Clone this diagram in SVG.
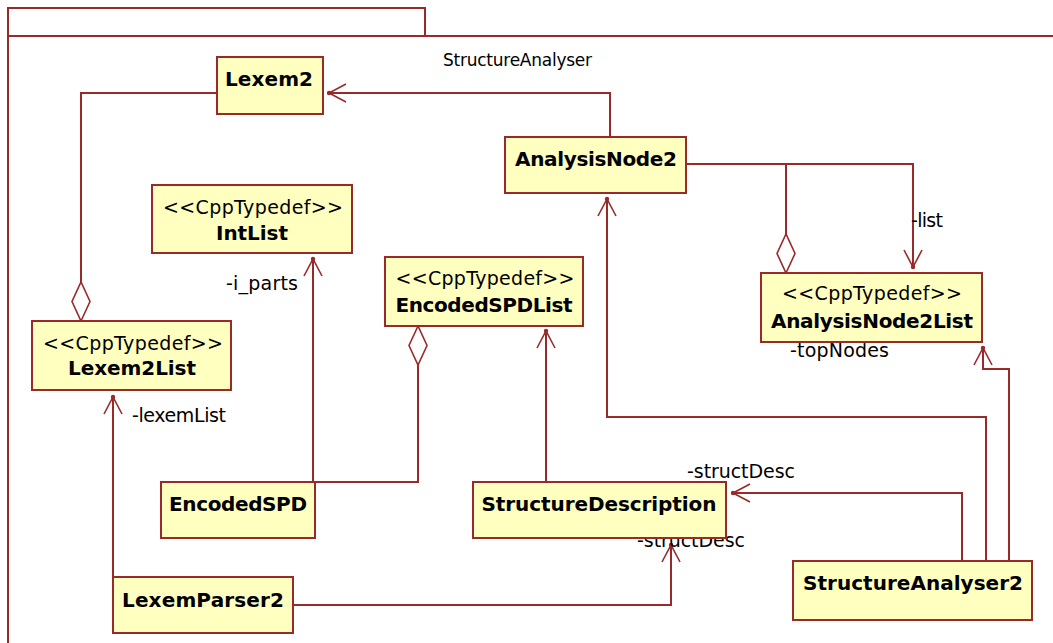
<svg xmlns="http://www.w3.org/2000/svg" width="1053" height="643" viewBox="0 0 1053 643">
  <style>
    .frame { fill: none; stroke: #992a2a; stroke-width: 2; }
    .box { fill: #ffffc0; stroke: #992a2a; stroke-width: 2; }
    .edge { fill: none; stroke: #992a2a; stroke-width: 2; }
    .name { font-family: "DejaVu Sans", Verdana, sans-serif; font-weight: bold; font-size: 20px; fill: #000; text-anchor: middle; }
    .stereo { font-family: "DejaVu Sans", Verdana, sans-serif; font-size: 19px; fill: #000; text-anchor: middle; }
    .label { font-family: "DejaVu Sans", Verdana, sans-serif; font-size: 19px; fill: #000; }
    .pkg { font-family: "DejaVu Sans", Verdana, sans-serif; font-size: 17px; fill: #000; }
  </style>
  <defs>
    <!-- navigable association end: open arrow with a dot at the tip -->
    <marker id="nav" markerUnits="userSpaceOnUse" viewBox="-20 -12 24 24" refX="0" refY="0" markerWidth="24" markerHeight="24" orient="auto" overflow="visible">
      <path d="M -17 -9 L 0 0 L -17 9" fill="none" stroke="#992a2a" stroke-width="1.6"/>
      <circle cx="0" cy="0" r="2.2" fill="#992a2a"/>
    </marker>
    <!-- aggregation end: hollow diamond -->
    <marker id="agg" markerUnits="userSpaceOnUse" viewBox="-42 -12 44 24" refX="0" refY="0" markerWidth="44" markerHeight="24" orient="auto" overflow="visible">
      <path d="M 0 0 L -19.5 -9 L -39 0 L -19.5 9 Z" fill="#ffffff" stroke="#992a2a" stroke-width="1.6"/>
    </marker>
  </defs>

  <rect width="1053" height="643" fill="#ffffff"/>

  <!-- package frame -->
  <g id="package">
    <rect class="frame" x="8" y="8" width="417" height="28"/>
    <path class="frame" d="M 8 36 L 1060 36 M 8 36 L 8 650"/>
    <text class="pkg" x="443" y="66" textLength="149">StructureAnalyser</text>
  </g>

  <!-- connectors -->
  <g id="connectors">
    <!-- Lexem2List aggregates Lexem2 -->
    <path class="edge" d="M 217 93 L 81 93 L 81 321" marker-end="url(#agg)"/>
    <!-- AnalysisNode2 -> Lexem2 -->
    <path class="edge" d="M 610 137 L 610 93 L 329 93" marker-end="url(#nav)"/>
    <!-- EncodedSPD -> IntList (-i_parts) -->
    <path class="edge" d="M 313 482 L 313 259" marker-end="url(#nav)"/>
    <!-- EncodedSPDList aggregates EncodedSPD -->
    <path class="edge" d="M 313 482 L 418 482 L 418 326" marker-end="url(#agg)"/>
    <!-- StructureDescription -> EncodedSPDList -->
    <path class="edge" d="M 546 482 L 546 331" marker-end="url(#nav)"/>
    <!-- AnalysisNode2 -> AnalysisNode2List (-list) -->
    <path class="edge" d="M 686 164 L 913 164 L 913 267" marker-end="url(#nav)"/>
    <!-- AnalysisNode2List aggregates AnalysisNode2 -->
    <path class="edge" d="M 786 164 L 786 273" marker-end="url(#agg)"/>
    <!-- StructureAnalyser2 -> AnalysisNode2 -->
    <path class="edge" d="M 986 561 L 986 417 L 607 417 L 607 199" marker-end="url(#nav)"/>
    <!-- StructureAnalyser2 -> AnalysisNode2List (-topNodes) -->
    <path class="edge" d="M 1009 561 L 1009 369 L 983 369 L 983 348" marker-end="url(#nav)"/>
    <!-- StructureAnalyser2 -> StructureDescription (-structDesc) -->
    <path class="edge" d="M 962 561 L 962 493 L 733 493" marker-end="url(#nav)"/>
    <!-- LexemParser2 -> StructureDescription (-structDesc) -->
    <path class="edge" d="M 293 605 L 671 605 L 671 545" marker-end="url(#nav)"/>
    <!-- LexemParser2 -> Lexem2List (-lexemList) -->
    <path class="edge" d="M 113 577 L 113 397" marker-end="url(#nav)"/>

    <text class="label" x="226" y="290" textLength="72">-i_parts</text>
    <text class="label" x="132" y="422" textLength="94">-lexemList</text>
    <text class="label" x="911" y="227" textLength="32">-list</text>
    <text class="label" x="790" y="357" textLength="99">-topNodes</text>
    <text class="label" x="687" y="478" textLength="108">-structDesc</text>
    <text class="label" x="637" y="547" textLength="108">-structDesc</text>
  </g>

  <!-- classes -->
  <g id="Lexem2">
    <rect class="box" x="217" y="57" width="106" height="57"/>
    <text class="name" x="269" y="86" textLength="88">Lexem2</text>
  </g>

  <g id="IntList">
    <rect class="box" x="152" y="185" width="200" height="68"/>
    <text class="stereo" x="253" y="214" textLength="180">&lt;&lt;CppTypedef&gt;&gt;</text>
    <text class="name" x="252" y="240" textLength="72">IntList</text>
  </g>

  <g id="Lexem2List">
    <rect class="box" x="32" y="321" width="199" height="69"/>
    <text class="stereo" x="133" y="350" textLength="180">&lt;&lt;CppTypedef&gt;&gt;</text>
    <text class="name" x="132" y="375" textLength="128">Lexem2List</text>
  </g>

  <g id="EncodedSPDList">
    <rect class="box" x="385" y="257" width="198" height="69"/>
    <text class="stereo" x="485" y="285" textLength="179">&lt;&lt;CppTypedef&gt;&gt;</text>
    <text class="name" x="484" y="312" textLength="177">EncodedSPDList</text>
  </g>

  <g id="AnalysisNode2">
    <rect class="box" x="505" y="137" width="181" height="56"/>
    <text class="name" x="596" y="166" textLength="162">AnalysisNode2</text>
  </g>

  <g id="AnalysisNode2List">
    <rect class="box" x="761" y="273" width="221" height="69"/>
    <text class="stereo" x="872" y="300" textLength="180">&lt;&lt;CppTypedef&gt;&gt;</text>
    <text class="name" x="872" y="328" textLength="202">AnalysisNode2List</text>
  </g>

  <g id="EncodedSPD">
    <rect class="box" x="161" y="482" width="154" height="56"/>
    <text class="name" x="238" y="511" textLength="138">EncodedSPD</text>
  </g>

  <g id="StructureDescription">
    <rect class="box" x="473" y="482" width="253" height="56"/>
    <text class="name" x="599" y="511" textLength="235">StructureDescription</text>
  </g>

  <g id="LexemParser2">
    <rect class="box" x="113" y="577" width="180" height="56"/>
    <text class="name" x="203" y="607" textLength="162">LexemParser2</text>
  </g>

  <g id="StructureAnalyser2">
    <rect class="box" x="793" y="561" width="239" height="59"/>
    <text class="name" x="913" y="590" textLength="220">StructureAnalyser2</text>
  </g>
</svg>
